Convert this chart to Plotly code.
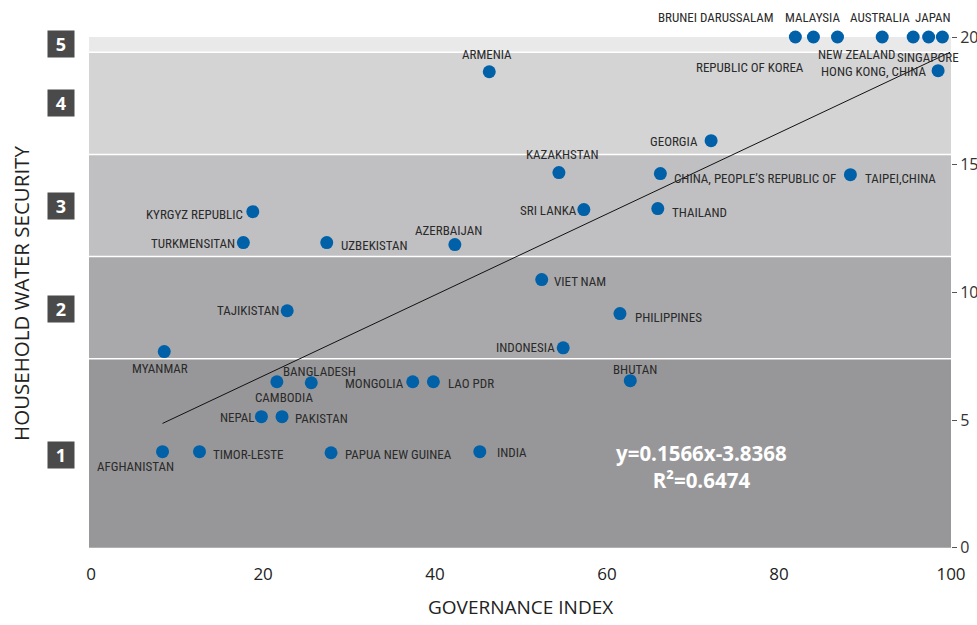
import numpy as np
import plotly.graph_objects as go

# ---------------- data ----------------
countries = [
    "AFGHANISTAN", "TIMOR-LESTE", "PAPUA NEW GUINEA", "INDIA", "NEPAL", "PAKISTAN",
    "CAMBODIA", "BANGLADESH", "MONGOLIA", "LAO PDR", "BHUTAN", "MYANMAR",
    "INDONESIA", "PHILIPPINES", "VIET NAM", "TAJIKISTAN", "TURKMENSITAN",
    "UZBEKISTAN", "AZERBAIJAN", "KYRGYZ REPUBLIC", "SRI LANKA", "THAILAND",
    "KAZAKHSTAN", "CHINA, PEOPLE\u2019S REPUBLIC OF", "TAIPEI,CHINA", "GEORGIA",
    "ARMENIA", "HONG KONG, CHINA", "BRUNEI DARUSSALAM", "MALAYSIA",
    "REPUBLIC OF KOREA", "AUSTRALIA", "NEW ZEALAND", "JAPAN", "SINGAPORE",
]
governance = [
    8.3, 12.6, 27.9, 45.2, 19.8, 22.2,
    21.6, 25.6, 37.4, 39.8, 62.7, 8.5,
    54.9, 61.5, 52.4, 22.8, 17.7,
    27.4, 42.3, 18.8, 57.3, 65.9,
    54.4, 66.2, 88.3, 72.1,
    46.3, 98.5, 81.9, 84.0,
    86.8, 92.0, 95.6, 97.4, 99.0,
]
water_security = [
    3.76, 3.76, 3.72, 3.76, 5.13, 5.13,
    6.50, 6.46, 6.50, 6.50, 6.54, 7.68,
    7.83, 9.17, 10.5, 9.28, 11.95,
    11.95, 11.87, 13.16, 13.24, 13.28,
    14.69, 14.65, 14.61, 15.94,
    18.64, 18.68, 20.0, 20.0,
    20.0, 20.0, 20.0, 20.0, 20.0,
]
trend_slope = 0.1587
trend_intercept = 3.55
trend_x_end = 99.9
band_edges = [0, 7.4, 11.4, 15.4, 19.4, 20]
level_labels = ["1", "2", "3", "4", "5"]
level_label_y = [3.64, 9.36, 13.4, 17.41, 19.72]
x_ticks = [0, 20, 40, 60, 80, 100]
y_ticks = [0, 5, 10, 15, 20]
equation_lines = ["y=0.1566x-3.8368", "R\u00b2=0.6474"]
x_title = "GOVERNANCE INDEX"
y_title = "HOUSEHOLD WATER SECURITY"

# ---------------- styles (label placement: xanchor, xshift, yshift) ----------------
label_place = {
    "AFGHANISTAN": ("center", -27, -15),
    "TIMOR-LESTE": ("left", 12, -3),
    "PAPUA NEW GUINEA": ("left", 12, -2),
    "INDIA": ("left", 15, -1),
    "NEPAL": ("right", -4, -1),
    "PAKISTAN": ("left", 11, -2),
    "CAMBODIA": ("center", 7, -16),
    "BANGLADESH": ("center", 8, 11),
    "MONGOLIA": ("right", -7, -2),
    "LAO PDR": ("left", 13, -2),
    "BHUTAN": ("center", 5, 11),
    "MYANMAR": ("center", -4, -17),
    "INDONESIA": ("right", -6, 0),
    "PHILIPPINES": ("left", 13, -4),
    "VIET NAM": ("left", 10, -2),
    "TAJIKISTAN": ("right", -6, 0),
    "TURKMENSITAN": ("right", -6, -1),
    "UZBEKISTAN": ("left", 12, -3),
    "AZERBAIJAN": ("center", -6, 14),
    "KYRGYZ REPUBLIC": ("right", -8, -3),
    "SRI LANKA": ("right", -5, -1),
    "THAILAND": ("left", 12, -4),
    "KAZAKHSTAN": ("center", 4, 18),
    "CHINA, PEOPLE\u2019S REPUBLIC OF": ("left", 12, -5),
    "TAIPEI,CHINA": ("left", 13, -4),
    "GEORGIA": ("right", -11, -1),
    "ARMENIA": ("center", -2, 17),
    "HONG KONG, CHINA": ("right", -10, -1),
    "BRUNEI DARUSSALAM": ("right", -19, 20),
    "MALAYSIA": ("center", -1, 20),
    "REPUBLIC OF KOREA": ("right", -32, -30),
    "AUSTRALIA": ("center", -2, 20),
    "NEW ZEALAND": ("center", -57, -17),
    "JAPAN": ("center", 4, 20),
    "SINGAPORE": ("center", -14, -20),
}
band_colors = ["#979799", "#a9a9ab", "#c0c0c2", "#d4d4d5", "#e9e9e9"]
dot_color = "#0060a8"
label_font = dict(family="Liberation Sans Narrow, Roboto Condensed, Roboto, sans-serif", size=13, color="#2a2a2a")
main_font = "Open Sans, sans-serif"

fig = go.Figure()

# background bands
for i in range(len(band_edges) - 1):
    fig.add_shape(type="rect", xref="paper", yref="y", x0=0, x1=1,
                  y0=band_edges[i], y1=band_edges[i + 1],
                  fillcolor=band_colors[i], line=dict(width=0), layer="below")
for e in band_edges[1:-1]:
    fig.add_shape(type="line", xref="paper", yref="y", x0=0, x1=1, y0=e, y1=e,
                  line=dict(color="white", width=1.5), layer="below")

# trend line
lx = np.array([min(governance), trend_x_end])
fig.add_trace(go.Scatter(x=lx, y=trend_slope * lx + trend_intercept, mode="lines",
                         line=dict(color="#111111", width=1), hoverinfo="skip",
                         cliponaxis=False))

# points
fig.add_trace(go.Scatter(x=governance, y=water_security, mode="markers",
                         marker=dict(color=dot_color, size=13), text=countries,
                         hoverinfo="text", cliponaxis=False))

# point labels
for name, gxv, wyv in zip(countries, governance, water_security):
    xa, xs, ys = label_place[name]
    fig.add_annotation(x=gxv, y=wyv, xref="x", yref="y", text=name, showarrow=False,
                       xanchor=xa, yanchor="middle", xshift=xs, yshift=ys,
                       font=label_font)

# level boxes
for lab, ly in zip(level_labels, level_label_y):
    fig.add_annotation(x=-0.0325, y=ly, xref="paper", yref="y", text="<b>" + lab + "</b>",
                       showarrow=False, xanchor="center", yanchor="middle",
                       bgcolor="#4a4a4a", width=20, height=20, borderpad=3,
                       font=dict(family=main_font, size=18, color="white"))

# equation
fig.add_annotation(x=0.711, y=0.161, xref="paper", yref="paper",
                   text="<br>".join("<b>" + t + "</b>" for t in equation_lines),
                   showarrow=False, xanchor="center", yanchor="middle", align="center",
                   font=dict(family=main_font, size=20.5, color="white"))

# axis titles
fig.add_annotation(x=-0.079, y=0.5, xref="paper", yref="paper", text=y_title,
                   textangle=-90, showarrow=False, xanchor="center", yanchor="middle",
                   font=dict(family=main_font, size=20.5, color="#222222"))
fig.add_annotation(x=0.5, y=-0.113, xref="paper", yref="paper", text=x_title,
                   showarrow=False, xanchor="center", yanchor="middle",
                   font=dict(family=main_font, size=19, color="#222222"))

fig.update_layout(
    width=977, height=625,
    margin=dict(l=89, r=26, t=37, b=76, autoexpand=False),
    paper_bgcolor="white", plot_bgcolor="white",
    showlegend=False,
    xaxis=dict(range=[-0.25, 100], tickvals=x_ticks, showgrid=False, zeroline=False,
               showline=False, ticks="outside", ticklen=10, tickcolor="rgba(0,0,0,0)",
               automargin=False,
               tickfont=dict(family=main_font, size=17, color="#222222")),
    yaxis=dict(range=[-0.05, 20], tickvals=y_ticks, side="right", showgrid=False,
               zeroline=False, showline=False, ticks="outside", ticklen=5,
               tickcolor="#555555", automargin=False,
               tickfont=dict(family=main_font, size=16, color="#333333")),
)

fig.write_html("out.html", config={"displayModeBar": False},
               post_script="document.body.style.margin='0';document.body.style.overflow='hidden';")
